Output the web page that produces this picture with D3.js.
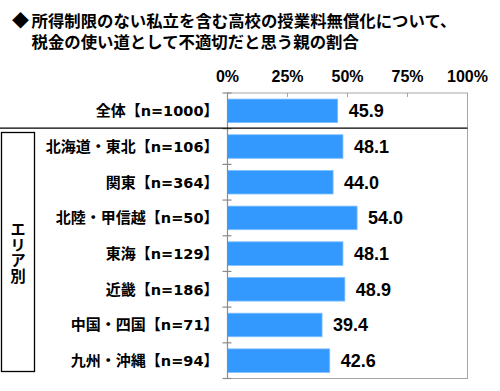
<!DOCTYPE html>
<html><head><meta charset="utf-8">
<script src="https://cdn.jsdelivr.net/npm/d3@7"></script>
<style>body{margin:0;background:#fff}svg{display:block}</style>
</head><body>
<svg id="c" width="500" height="391"></svg>
<script>
const titleMark = "◆";
const titleLines = ["所得制限のない私立を含む高校の授業料無償化について、", "税金の使い道として不適切だと思う親の割合"];
const categories = ["全体","北海道・東北","関東","北陸・甲信越","東海","近畿","中国・四国","九州・沖縄"];
const sampleSizes = [1000, 106, 364, 50, 129, 186, 71, 94];
const values = [45.9, 48.1, 44.0, 54.0, 48.1, 48.9, 39.4, 42.6];
const tickValues = [0, 25, 50, 75, 100];
const groupLabel = "エリア別";

const svg = d3.select("#c");
const jp = "'Noto Sans CJK JP','Noto Sans',sans-serif";
const lat = "'Liberation Sans',Arial,sans-serif";
const wide = "'DejaVu Sans',sans-serif";

const x = d3.scaleLinear().domain([0,100]).range([227.5,467.5]);
const y = d3.scaleBand().domain(categories).range([93,378.5]).paddingInner(0.34).paddingOuter(0.17);
const step = y.step();

// title (two lines as a single text block)
const tt = svg.append("text").attr("font-family",jp).attr("font-weight","bold").attr("font-size",16.4).attr("fill","#000");
tt.append("tspan").attr("x",12).attr("y",27).attr("font-size",17).text(titleMark);
tt.selectAll("tspan.l").data(titleLines).join("tspan").attr("class","l")
  .attr("x",31.5).attr("y",(d,i)=>27+i*21).text(d=>d);

// frame
const frameColor = "#a6a6a6";
svg.append("rect").attr("x",x(0)).attr("y",93).attr("width",x(100)-x(0)).attr("height",378.5-93)
  .attr("fill","none").attr("stroke",frameColor).attr("stroke-width",1);

// top axis labels + small ticks
svg.append("g").selectAll("text").data(tickValues).join("text")
  .attr("x",d=>x(d)).attr("y",82).attr("text-anchor","middle")
  .attr("font-family",lat).attr("font-size",16).attr("font-weight","bold").attr("fill","#000")
  .text(d=>d+"%");
svg.append("g").selectAll("line").data(tickValues.slice(1,-1)).join("line")
  .attr("x1",d=>x(d)).attr("x2",d=>x(d)).attr("y1",93).attr("y2",97)
  .attr("stroke",frameColor).attr("stroke-width",1);

// bars
svg.append("g").selectAll("rect").data(values).join("rect")
  .attr("x",x(0)).attr("y",(d,i)=>y(categories[i]))
  .attr("width",d=>x(d)-x(0)).attr("height",y.bandwidth())
  .attr("fill","#3399ff").attr("stroke","#7fbfff").attr("stroke-width",0.8);

// left axis line + ticks
svg.append("line").attr("x1",x(0)).attr("x2",x(0)).attr("y1",93).attr("y2",378.5)
  .attr("stroke","#8c8c8c").attr("stroke-width",1.2);
const bounds = d3.range(categories.length+1).map(i=>93+i*step);
svg.append("g").selectAll("line").data(bounds).join("line")
  .attr("x1",x(0)-5).attr("x2",x(0)+4).attr("y1",d=>d).attr("y2",d=>d)
  .attr("stroke","#8c8c8c").attr("stroke-width",1.2);

// separator
svg.append("line").attr("x1",0).attr("x2",x(100)).attr("y1",bounds[1]-0.5).attr("y2",bounds[1]-0.5)
  .attr("stroke","#000").attr("stroke-width",1.3);

// category labels
const cl = svg.append("g").selectAll("text").data(categories).join("text")
  .attr("x",218.5).attr("y",d=>y(d)+y.bandwidth()/2).attr("dy","0.36em").attr("text-anchor","end")
  .attr("font-family",jp).attr("font-weight","bold").attr("font-size",15).attr("fill","#000");
cl.append("tspan").text(d=>d+"【");
cl.append("tspan").attr("font-family",wide).attr("font-size",14.5).text((d,i)=>"n="+sampleSizes[i]);
cl.append("tspan").text("】");

// value labels
svg.append("g").selectAll("text").data(values).join("text")
  .attr("x",d=>x(d)+11).attr("y",(d,i)=>y(categories[i])+y.bandwidth()/2).attr("dy","0.36em")
  .attr("font-family",lat).attr("font-weight","bold").attr("font-size",18).attr("fill","#000")
  .text(d=>d.toFixed(1));

// group box
svg.append("rect").attr("x",1.5).attr("y",132.5).attr("width",33).attr("height",239)
  .attr("fill","none").attr("stroke","#000").attr("stroke-width",1.3);
svg.append("text").attr("font-family",jp).attr("font-weight","bold").attr("font-size",15.5).attr("fill","#000")
  .attr("x",18).attr("y",252.5).attr("text-anchor","middle")
  .style("writing-mode","vertical-rl").style("text-orientation","upright")
  .text(groupLabel);
</script>
</body></html>
